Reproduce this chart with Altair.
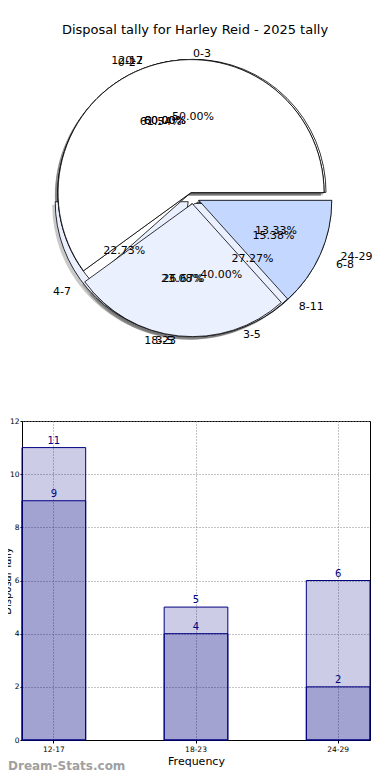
import altair as alt
import pandas as pd

TITLE = "Disposal tally for Harley Reid - 2025 tally"
WATERMARK = "Dream-Stats.com"

# four overlaid pies (as in the original picture)
pie_a_labels = ["0-3", "4-7", "8-11"]
pie_a_values = [11, 5, 6]
pie_b_labels = ["12-17", "18-23", "24-29"]
pie_b_values = [9, 4, 2]
pie_c_labels = ["0-2", "3-5", "6-8"]
pie_c_values = [8, 3, 2]
pie_d_labels = ["0-2", "3-5"]
pie_d_values = [3, 2]

# bar chart
categories = ["12-17", "18-23", "24-29"]
outer_values = [11, 5, 6]
inner_values = [9, 4, 2]
y_ticks = [0, 2, 4, 6, 8, 10, 12]
x_title = "Frequency"
y_title = "Disposal Tally"

FONT = "DejaVu Sans"
SLICE_COLORS = ["#ffffff", "#ebf0ff", "#c4d7ff"]

rows = []
for order, (labs, vals) in enumerate([(pie_a_labels, pie_a_values),
                                      (pie_c_labels, pie_c_values),
                                      (pie_d_labels, pie_d_values),
                                      (pie_b_labels, pie_b_values)]):
    for i, (lab, val) in enumerate(zip(labs, vals)):
        rows.append({"pie": order, "slice": i, "label": lab, "value": val})
pie_df = pd.DataFrame(rows)

bar_df = pd.DataFrame({
    "cat": categories + categories,
    "value": outer_values + inner_values,
    "kind": ["outer"] * len(categories) + ["inner"] * len(categories),
})

# layout: plot area origin at page (22, 421)
OX, OY = 22, 421
PLOT_W, PLOT_H = 348, 319

# pie geometry (pixels, relative to bar plot origin)
CX, CY = 193 - OX, 198 - OY
R = 133
RX, RY = 141, 126
EXP = 0.045

pie_base = (
    alt.Chart(pie_df)
    .transform_joinaggregate(total="sum(value)", groupby=["pie"])
    .transform_window(cum="sum(value)", groupby=["pie"], sort=[alt.SortField("slice", order="ascending")])
    .transform_calculate(f0="(datum.cum - datum.value) / datum.total", f1="datum.cum / datum.total")
    .transform_calculate(
        mid="PI * (datum.f0 + datum.f1)",
        t0="2.5 * PI - 2 * PI * datum.f0",
        t1="2.5 * PI - 2 * PI * datum.f1",
        pct="format(100 * datum.value / datum.total, '.2f') + '%'",
    )
    .transform_calculate(
        px=f"{CX} + {EXP * RX} * cos(datum.mid)",
        py=f"{CY} - {EXP * RY} * sin(datum.mid)",
    )
    .transform_calculate(
        lx=f"datum.px + {1.1 * RX} * cos(datum.mid)",
        ly=f"datum.py - {1.1 * RY} * sin(datum.mid)",
        qx=f"datum.px + {0.6 * RX} * cos(datum.mid)",
        qy=f"datum.py - {0.6 * RY} * sin(datum.mid)",
        sx="datum.px - 3",
        sy="datum.py + 3",
        right="cos(datum.mid) > 0",
    )
)


def pos(xf, yf):
    return dict(x=alt.X(f"{xf}:Q", scale=None, axis=None),
                y=alt.Y(f"{yf}:Q", scale=None, axis=None))


theta_enc = dict(theta=alt.Theta("t0:Q", scale=None), theta2=alt.Theta2("t1:Q"))

layers = []
layers.append(
    pie_base.mark_arc(radius=R, fill="#4d4d4d", fillOpacity=0.3, strokeWidth=0)
    .encode(**theta_enc, **pos("sx", "sy"))
)
for k in range(4):
    layers.append(
        pie_base.transform_filter(f"datum.pie == {k}")
        .mark_arc(radius=R, stroke="black", strokeWidth=0.8)
        .encode(**theta_enc, **pos("px", "py"),
                color=alt.Color("slice:O", scale=alt.Scale(domain=[0, 1, 2], range=SLICE_COLORS), legend=None))
    )
layers.append(
    pie_base.transform_filter("datum.right")
    .mark_text(align="left", baseline="middle", font=FONT, fontSize=11, color="black")
    .encode(text="label:N", **pos("lx", "ly"))
)
layers.append(
    pie_base.transform_filter("!datum.right")
    .mark_text(align="right", baseline="middle", font=FONT, fontSize=11, color="black")
    .encode(text="label:N", **pos("lx", "ly"))
)
layers.append(
    pie_base.mark_text(align="center", baseline="middle", font=FONT, fontSize=11, color="black")
    .encode(text="pct:N", **pos("qx", "qy"))
)
layers.append(
    alt.Chart(pd.DataFrame({"t": [TITLE]}))
    .mark_text(align="center", baseline="middle", font=FONT, fontSize=13, color="black")
    .encode(text="t:N", x=alt.value(195 - OX), y=alt.value(30 - OY))
)
layers.append(
    alt.Chart(pd.DataFrame({"t": [WATERMARK]}))
    .mark_text(align="left", baseline="middle", font=FONT, fontSize=12, fontWeight="bold", color="#a0a0a0")
    .encode(text="t:N", x=alt.value(8 - OX), y=alt.value(766 - OY))
)

x_enc = alt.X(
    "cat:N", sort=categories,
    scale=alt.Scale(paddingInner=0.552, paddingOuter=0),
    axis=alt.Axis(title=x_title, grid=True, bandPosition=0.5, gridDash=[1, 2], gridColor="#888888",
                  labelAngle=0, labelFontSize=7.5, labelColor="black", labelPadding=2, tickSize=3,
                  tickColor="black", domainColor="black", titleFontSize=11, titleFontWeight="normal",
                  titleColor="black", titlePadding=3, labelFont=FONT, titleFont=FONT),
)
y_enc = alt.Y(
    "value:Q",
    scale=alt.Scale(domain=[0, 12], nice=False),
    axis=alt.Axis(title=y_title, values=y_ticks, grid=True, gridDash=[1, 2], gridColor="#888888",
                  labelFontSize=7.5, labelColor="black", labelPadding=1, tickSize=2, tickColor="black",
                  domainColor="black", titleFontSize=10, titleFontWeight="normal", titleColor="black",
                  titleX=-10, titleY=PLOT_H / 2, titleAngle=270, titleBaseline="bottom", titleAlign="center",
                  labelFont=FONT, titleFont=FONT),
)
for kind in ["outer", "inner"]:
    layers.append(
        alt.Chart(bar_df).transform_filter(f"datum.kind == '{kind}'")
        .mark_bar(fill="navy", fillOpacity=0.2, stroke="navy", strokeWidth=1)
        .encode(x=x_enc, y=y_enc)
    )
layers.append(
    alt.Chart(bar_df)
    .mark_text(baseline="bottom", dy=-2, color="navy", font=FONT, fontSize=10)
    .encode(x=x_enc, y=y_enc, text="value:Q")
)

chart = (
    alt.layer(*layers)
    .properties(width=PLOT_W, height=PLOT_H,
                autosize=alt.AutoSizeParams(type="none"),
                padding={"left": OX - 8, "top": OY - 8, "right": 390 - 8 - (OX - 8) - PLOT_W - 8,
                         "bottom": 772 - OY - PLOT_H})
    .configure(font=FONT)
    .configure_view(stroke="black", strokeWidth=1)
)

chart.save("out.html", embed_options={"renderer": "svg", "actions": False})
